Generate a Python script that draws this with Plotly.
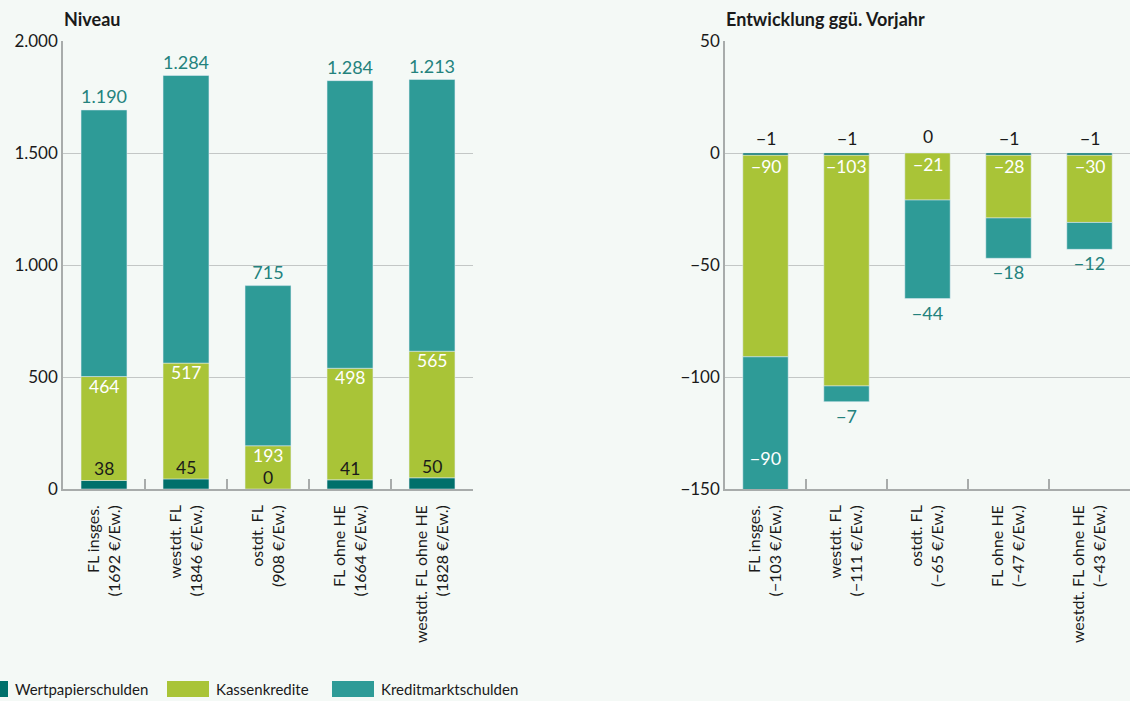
import plotly.graph_objects as go

# --- data -------------------------------------------------------------------
kategorien_niveau = [
    "FL insges.<br>(1692 €/Ew.)",
    "westdt. FL<br>(1846 €/Ew.)",
    "ostdt. FL<br>(908 €/Ew.)",
    "FL ohne HE<br>(1664 €/Ew.)",
    "westdt. FL ohne HE<br>(1828 €/Ew.)",
]
kategorien_entwicklung = [
    "FL insges.<br>(−103 €/Ew.)",
    "westdt. FL<br>(−111 €/Ew.)",
    "ostdt. FL<br>(−65 €/Ew.)",
    "FL ohne HE<br>(−47 €/Ew.)",
    "westdt. FL ohne HE<br>(−43 €/Ew.)",
]

wertpapier_niveau = [38, 45, 0, 41, 50]
kassen_niveau = [464, 517, 193, 498, 565]
kredit_niveau = [1190, 1284, 715, 1284, 1213]

wertpapier_entw = [-1, -1, 0, -1, -1]
kassen_entw = [-90, -103, -21, -28, -30]
kredit_entw = [-90, -7, -44, -18, -12]

serien = ["Wertpapierschulden", "Kassenkredite", "Kreditmarktschulden"]

# --- style ------------------------------------------------------------------
C_WP = "#00706b"
C_KK = "#a9c437"
C_KM = "#2e9b97"
C_KM_TXT = "#23827d"
BG = "#f4f9f6"
GRID = "#c3c7c6"
AXIS = "#a8acab"
TXT = "#1a1a1a"
FONT = "Lato"
LBL = 18        # labels at the end of the stacks
LBL_SEG = 17.5  # labels of the lower segments

W, H = 1130, 701


def fx(px):
    return px / W


def fy(py):
    return 1 - py / H


def fmt(v):
    s = f"{abs(v):,}".replace(",", ".")
    return ("\u2212" + s) if v < 0 else s


def value_labels(xs, ys, values, anchor, shift, color, xa, ya):
    """Place one label per category at a data position of the stack."""
    for x, y, v in zip(xs, ys, values):
        fig.add_annotation(
            x=x, y=y, xref=xa, yref=ya, text=fmt(v), showarrow=False,
            xanchor="center", yanchor=anchor, yshift=shift, borderpad=0,
            font=dict(family=FONT, size=LBL_SEG, color=color),
        )


fig = go.Figure()

# --- left panel: Niveau -----------------------------------------------------
fig.add_trace(go.Bar(
    x=kategorien_niveau, y=wertpapier_niveau, name=serien[0],
    marker_color=C_WP, xaxis="x", yaxis="y", showlegend=False,
))
fig.add_trace(go.Bar(
    x=kategorien_niveau, y=kassen_niveau, name=serien[1],
    marker_color=C_KK, xaxis="x", yaxis="y", showlegend=False,
))
fig.add_trace(go.Bar(
    x=kategorien_niveau, y=kredit_niveau, name=serien[2],
    marker_color=C_KM, xaxis="x", yaxis="y", showlegend=False,
    text=[fmt(v) for v in kredit_niveau], textposition="outside",
    textangle=0, constraintext="none",
    textfont=dict(color=C_KM_TXT, size=LBL, family=FONT),
))

# --- right panel: Entwicklung ggü. Vorjahr ----------------------------------
fig.add_trace(go.Bar(
    x=kategorien_entwicklung, y=wertpapier_entw, name=serien[0],
    marker_color=C_WP, xaxis="x2", yaxis="y2", showlegend=False,
))
fig.add_trace(go.Bar(
    x=kategorien_entwicklung, y=kassen_entw, name=serien[1],
    marker_color=C_KK, xaxis="x2", yaxis="y2", showlegend=False,
))
# stack end of each bar, used to keep labels of bars running past the axis inside
stack_end = [a + b + c for a, b, c in zip(wertpapier_entw, kassen_entw, kredit_entw)]
km_pos = ["inside" if e < -150 else "outside" for e in stack_end]
fig.add_trace(go.Bar(
    x=kategorien_entwicklung, y=kredit_entw, name=serien[2],
    marker_color=C_KM, xaxis="x2", yaxis="y2", showlegend=False,
    text=[fmt(v) for v in kredit_entw], textposition=km_pos,
    insidetextanchor="middle", textangle=0, constraintext="none",
    textfont=dict(color=C_KM_TXT, size=LBL, family=FONT),
    insidetextfont=dict(color="white", size=LBL, family=FONT),
    outsidetextfont=dict(color=C_KM_TXT, size=LBL, family=FONT),
))

# --- value labels of the lower segments --------------------------------------
kk_top_niveau = [a + b for a, b in zip(wertpapier_niveau, kassen_niveau)]
value_labels(kategorien_niveau, wertpapier_niveau, wertpapier_niveau,
             "bottom", 0, TXT, "x", "y")
value_labels(kategorien_niveau, kk_top_niveau, kassen_niveau,
             "top", 2, "white", "x", "y")
value_labels(kategorien_entwicklung, wertpapier_entw, wertpapier_entw,
             "bottom", 5, TXT, "x2", "y2")
# the green segment starts where the Wertpapierschulden end
value_labels(kategorien_entwicklung, wertpapier_entw, kassen_entw,
             "top", 0, "white", "x2", "y2")

# --- axes -------------------------------------------------------------------
xcommon = dict(
    type="category", showline=True, linecolor=AXIS, linewidth=1.5,
    ticks="inside", tickson="boundaries", ticklen=10, tickcolor=AXIS,
    tickwidth=1.5, tickangle=-90, showgrid=False, automargin=False,
    ticklabelstandoff=8,
    tickfont=dict(family=FONT, size=16, color=TXT), fixedrange=True,
)
ycommon = dict(
    showline=True, linecolor=AXIS, linewidth=1.5, showgrid=True,
    gridcolor=GRID, gridwidth=1, zeroline=False, ticks="",
    automargin=False, tickfont=dict(family=FONT, size=17, color=TXT),
    fixedrange=True,
)
ydom = [fy(489), fy(41)]

fig.update_layout(
    xaxis=dict(xcommon, domain=[fx(63), fx(473)], anchor="y"),
    yaxis=dict(ycommon, domain=ydom, anchor="x", range=[0, 2000],
               dtick=500, tickformat=",d"),
    xaxis2=dict(xcommon, domain=[fx(725), 1.0], anchor="y2"),
    yaxis2=dict(ycommon, domain=ydom, anchor="x2", range=[-150, 50],
                dtick=50),
    barmode="relative",
    bargap=0.44,
    separators=",.",
    width=W, height=H,
    margin=dict(l=0, r=0, t=0, b=0),
    paper_bgcolor=BG, plot_bgcolor=BG,
    font=dict(family=FONT, color=TXT),
    showlegend=False,
)

# panel titles
fig.add_annotation(x=fx(62), y=fy(19), xref="paper", yref="paper",
                   text="<b>Niveau</b>", showarrow=False, xanchor="left",
                   yanchor="middle", font=dict(family=FONT, size=18, color=TXT))
fig.add_annotation(x=fx(724), y=fy(19), xref="paper", yref="paper",
                   text="<b>Entwicklung ggü. Vorjahr</b>", showarrow=False,
                   xanchor="left", yanchor="middle",
                   font=dict(family=FONT, size=18, color=TXT))

# legend row
legend_items = [(serien[0], C_WP, -34), (serien[1], C_KK, 167), (serien[2], C_KM, 332)]
for name, col, x0 in legend_items:
    fig.add_shape(type="rect", xref="paper", yref="paper",
                  x0=fx(x0), x1=fx(x0 + 42), y0=fy(697), y1=fy(681),
                  fillcolor=col, line=dict(width=0))
    fig.add_annotation(x=fx(x0 + 47), y=fy(689), xref="paper", yref="paper",
                       text=name, showarrow=False, xanchor="left",
                       yanchor="middle", font=dict(family=FONT, size=15, color=TXT))

fig.write_html("out.html", config={"displayModeBar": False})
